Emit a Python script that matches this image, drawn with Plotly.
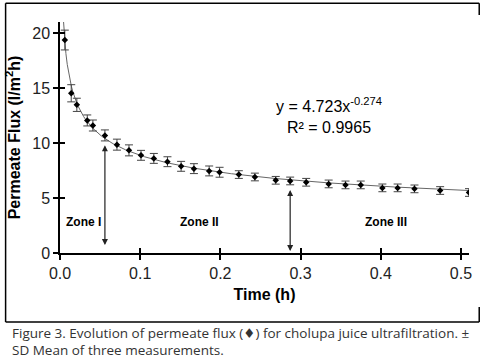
import plotly.graph_objects as go
import numpy as np

# Data
time_h = [0.006, 0.014, 0.021, 0.034, 0.041, 0.056, 0.071, 0.086, 0.101, 0.117,
          0.134, 0.151, 0.167, 0.186, 0.199, 0.223, 0.243, 0.269, 0.287, 0.307,
          0.335, 0.356, 0.375, 0.402, 0.421, 0.442, 0.474, 0.510]
flux = [19.36, 14.52, 13.47, 12.05, 11.59, 10.69, 9.85, 9.33, 8.88, 8.60,
        8.30, 7.88, 7.67, 7.46, 7.34, 7.13, 6.91, 6.61, 6.55, 6.43,
        6.28, 6.19, 6.19, 5.92, 5.92, 5.83, 5.68, 5.50]
sd = [0.9, 0.78, 0.6, 0.5, 0.5, 0.5, 0.5, 0.5, 0.45, 0.45,
      0.45, 0.45, 0.45, 0.45, 0.45, 0.35, 0.35, 0.35, 0.35, 0.35,
      0.35, 0.35, 0.35, 0.35, 0.35, 0.35, 0.35, 0.35]

# Power-law fit shown on the chart
fit_a = 4.723
fit_b = -0.274
fit_x = np.linspace(0.004, 0.51, 300)
fit_y = fit_a * fit_x ** fit_b

x_ticks = [0.0, 0.1, 0.2, 0.3, 0.4, 0.5]
x_tick_text = ["0.0", "0.1", "0.2", "0.3", "0.4", "0.5"]
y_ticks = [0, 5, 10, 15, 20]

zone_labels = ["Zone I", "Zone II", "Zone III"]
zone_x = [0.029, 0.174, 0.406]
zone_y = 2.8
arrow_x = [0.056, 0.287]
arrow_top = [9.93, 5.86]
arrow_bottom = [0.72, 0.18]

fig = go.Figure()
fig.add_trace(go.Scatter(x=fit_x, y=fit_y, mode="lines",
                         line=dict(color="#666666", width=1), hoverinfo="skip",
                         showlegend=False))
fig.add_trace(go.Scatter(x=time_h, y=flux, mode="markers",
                         marker=dict(symbol="diamond", size=5, color="black"),
                         error_y=dict(type="data", array=sd, visible=True,
                                      color="#444444", thickness=1, width=4),
                         showlegend=False))
# invisible trace for overlay axes (crossing ticks)
fig.add_trace(go.Scatter(x=[None], y=[None], xaxis="x2", yaxis="y2",
                         showlegend=False, hoverinfo="skip"))

axis_font = dict(family="Arial, Liberation Sans", size=16, color="#222222")

fig.update_layout(
    width=488, height=358,
    margin=dict(l=59.5, r=19, t=22, b=105),
    paper_bgcolor="white", plot_bgcolor="white",
    font=dict(family="Arial, Liberation Sans", color="black"),
    xaxis=dict(range=[0, 0.51], tickvals=x_ticks, ticktext=x_tick_text,
               showline=True, linecolor="black", linewidth=1.5,
               ticks="outside", ticklen=5, tickwidth=1.5, tickcolor="black",
               showgrid=False, zeroline=False, tickfont=axis_font,
               title=dict(text="<b>Time (h)</b>", font=dict(size=16, color="black"),
                          standoff=8)),
    yaxis=dict(range=[0, 21], tickvals=y_ticks,
               showline=True, linecolor="black", linewidth=1.5,
               ticks="outside", ticklen=5, tickwidth=1.5, tickcolor="black",
               showgrid=False, zeroline=False, tickfont=axis_font,
               title=dict(text="<b>Permeate Flux (l/m<sup>2</sup>h)</b>",
                          font=dict(size=16, color="black"), standoff=8)),
    xaxis2=dict(range=[0, 0.51], tickvals=x_ticks, overlaying="x", anchor="y2",
                side="bottom", ticks="inside", ticklen=5, tickwidth=1.5,
                tickcolor="black", showticklabels=False, showline=False,
                showgrid=False, zeroline=False),
    yaxis2=dict(range=[0, 21], tickvals=y_ticks, overlaying="y", anchor="x2",
                side="left", ticks="inside", ticklen=5, tickwidth=1.5,
                tickcolor="black", showticklabels=False, showline=False,
                showgrid=False, zeroline=False),
)

# equation
fig.add_annotation(x=0.336, y=12.35, xref="x", yref="y", showarrow=False,
                   yanchor="bottom", text="y = 4.723x<sup>-0.274</sup>",
                   font=dict(size=16, color="black"))
fig.add_annotation(x=0.336, y=12.35, xref="x", yref="y", showarrow=False,
                   yanchor="top", text="R² = 0.9965",
                   font=dict(size=16, color="black"))

for lab, zx in zip(zone_labels, zone_x):
    fig.add_annotation(x=zx, y=zone_y, xref="x", yref="y", showarrow=False,
                       text="<b>" + lab + "</b>", font=dict(size=12, color="black"))

for ax_, t, b in zip(arrow_x, arrow_top, arrow_bottom):
    fig.add_annotation(x=ax_, y=b, ax=ax_, ay=t, xref="x", yref="y",
                       axref="x", ayref="y", showarrow=True, text="",
                       arrowhead=2, arrowside="end+start", arrowsize=1,
                       arrowwidth=1.2, arrowcolor="#222222")

# border box (open on most of the right side, as in the source)
bl, br, bt, bb = -0.133, 1.025, 1.081, -0.299
border = dict(color="black", width=1.5)
fig.add_shape(type="line", xref="paper", yref="paper", x0=bl, x1=br, y0=bt, y1=bt, line=border)
fig.add_shape(type="line", xref="paper", yref="paper", x0=bl, x1=br, y0=bb, y1=bb, line=border)
fig.add_shape(type="line", xref="paper", yref="paper", x0=bl, x1=bl, y0=bb, y1=bt, line=border)
fig.add_shape(type="line", xref="paper", yref="paper", x0=br, x1=br, y0=bt, y1=1.03, line=border)
fig.add_shape(type="line", xref="paper", yref="paper", x0=br, x1=br, y0=bb, y1=-0.234, line=border)

cap_font = dict(family="Open Sans, DejaVu Sans", size=13.5, color="#333333")
fig.add_annotation(x=-0.123, y=-0.346, xref="paper", yref="paper", showarrow=False,
                   xanchor="left", yanchor="middle",
                   text="Figure 3. Evolution of permeate flux (♦) for cholupa juice ultrafiltration. ±",
                   font=cap_font)
fig.add_annotation(x=-0.123, y=-0.42, xref="paper", yref="paper", showarrow=False,
                   xanchor="left", yanchor="middle",
                   text="SD Mean of three measurements.", font=cap_font)

fig.write_html("out.html", config={"displayModeBar": False},
               post_script="document.body.style.margin='0';document.body.style.overflow='hidden';")
